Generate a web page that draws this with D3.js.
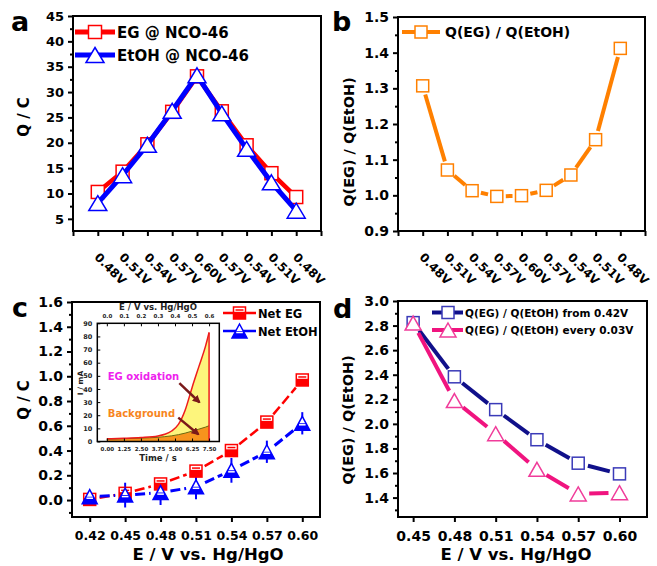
<!DOCTYPE html>
<html>
<head>
<meta charset="utf-8">
<script src="https://cdn.jsdelivr.net/npm/d3@7/dist/d3.min.js"></script>
<style>
  body { margin: 0; background: #fff; }
  text { font-family: "DejaVu Sans", sans-serif; font-weight: bold; }
</style>
</head>
<body>
<svg id="fig"></svg>
<script>
const W = 657, H = 566;

// panel a / b : cycle of potentials
const cycleLabels = ["0.48V", "0.51V", "0.54V", "0.57V", "0.60V", "0.57V", "0.54V", "0.51V", "0.48V"];
const qEG = [10.3, 14.3, 19.7, 26.1, 33.1, 26.2, 19.5, 14.0, 9.3];
const qEtOH = [8.1, 13.6, 19.6, 26.3, 33.3, 25.8, 18.8, 12.2, 6.6];
const ratioCycle = [1.307, 1.071, 1.013, 0.997, 0.999, 1.014, 1.057, 1.156, 1.412];

// panel c : net charge
const potC = [0.42, 0.45, 0.48, 0.51, 0.54, 0.57, 0.60];
const netEG = [0.005, 0.054, 0.13, 0.234, 0.40, 0.63, 0.97];
const netEGErr = [0.03, 0.03, 0.04, 0.04, 0.04, 0.04, 0.04];
const netEtOH = [0.027, 0.04, 0.06, 0.107, 0.24, 0.39, 0.62];
const netEtOHErr = [0.02, 0.1, 0.1, 0.1, 0.1, 0.09, 0.09];

// inset of c
const inTime = [0, 1.25, 2.5, 3.75, 4.25, 4.75, 5.25, 5.75, 6.25, 6.75, 7.25, 7.5];
const inEG = [2, 2.4, 3, 4.2, 5.5, 8, 13, 24, 41, 57, 73, 83];
const inBg = [1.7, 2.1, 2.6, 3.2, 3.7, 4.3, 5.2, 6.4, 7.9, 9.4, 11, 12];

// panel d : ratios
const potD = [0.45, 0.48, 0.51, 0.54, 0.57, 0.60];
const ratioFrom = [2.824, 2.383, 2.116, 1.871, 1.68, 1.593];
const ratioEvery = [2.82, 2.19, 1.92, 1.63, 1.43, 1.44];

const svg = d3.select("#fig").attr("width", W).attr("height", H);
svg.append("rect").attr("width", W).attr("height", H).attr("fill", "#fff");

function range(a, b, s) {
    const out = [];
    for (let v = a; v <= b + 1e-9; v += s) out.push(+v.toFixed(4));
    return out;
}

function frame(g, x, y) {
    g.append("rect")
        .attr("x", x.range()[0]).attr("y", y.range()[1])
        .attr("width", x.range()[1] - x.range()[0])
        .attr("height", y.range()[0] - y.range()[1])
        .attr("fill", "none").attr("stroke", "#000").attr("stroke-width", 2);
}

function yAxis(g, x, y, major, minor, fmt, size) {
    const left = x.range()[0];
    g.append("g").attr("transform", `translate(${left},0)`)
        .call(d3.axisLeft(y).tickValues(minor).tickSize(3).tickFormat(""))
        .call(a => a.select(".domain").remove())
        .selectAll("line").attr("stroke-width", 2);
    const ax = g.append("g").attr("transform", `translate(${left},0)`)
        .call(d3.axisLeft(y).tickValues(major).tickSize(5).tickPadding(4).tickFormat(fmt));
    ax.select(".domain").remove();
    ax.selectAll("line").attr("stroke-width", 2);
    ax.selectAll("text").attr("font-size", size).attr("fill", "#000")
        .style("font-family", "DejaVu Sans").style("font-weight", "bold");
}

function xAxis(g, x, y, ticks, fmt, size) {
    const ax = g.append("g").attr("transform", `translate(0,${y.range()[0]})`)
        .call(d3.axisBottom(x).tickValues(ticks).tickSize(5).tickPadding(9).tickFormat(fmt));
    ax.select(".domain").remove();
    ax.selectAll("line").attr("stroke-width", 2);
    ax.selectAll("text").attr("font-size", size).attr("fill", "#000")
        .style("font-family", "DejaVu Sans").style("font-weight", "bold");
}

function gapLine(g, pts, gap, color, width, dash) {
    for (let i = 0; i < pts.length - 1; i++) {
        const [x1, y1] = pts[i], [x2, y2] = pts[i + 1];
        const dx = x2 - x1, dy = y2 - y1, L = Math.hypot(dx, dy);
        if (L <= 2 * gap) continue;
        const ux = dx / L, uy = dy / L;
        g.append("line")
            .attr("x1", x1 + ux * gap).attr("y1", y1 + uy * gap)
            .attr("x2", x2 - ux * gap).attr("y2", y2 - uy * gap)
            .attr("stroke", color).attr("stroke-width", width)
            .attr("stroke-dasharray", dash || null);
    }
}

function square(g, cx, cy, s, color) {
    g.append("rect").attr("x", cx - s / 2).attr("y", cy - s / 2)
        .attr("width", s).attr("height", s)
        .attr("fill", "#fff").attr("stroke", color).attr("stroke-width", 1.5);
}

function triPath(cx, cy, w, h) {
    return `M${cx},${cy - h / 2}L${cx + w / 2},${cy + h / 2}L${cx - w / 2},${cy + h / 2}Z`;
}

function triangle(g, cx, cy, w, h, color) {
    g.append("path").attr("d", triPath(cx, cy, w, h))
        .attr("fill", "#fff").attr("stroke", color).attr("stroke-width", 1.5);
}

function panelLabel(txt, x, y) {
    svg.append("text").attr("x", x).attr("y", y).attr("font-size", 27).text(txt);
}

function rotatedLabels(g, x, y) {
    g.selectAll(null).data(cycleLabels).enter().append("text")
        .attr("transform", (d, i) => `translate(${x(i + 1) - 4},${y.range()[0] + 27}) rotate(45)`)
        .attr("font-size", 12).text(d => d);
}

// ---------- panel a ----------
{
    const g = svg.append("g");
    const x = d3.scaleLinear().domain([0, 10]).range([73, 321]);
    const y = d3.scaleLinear().domain([2.6, 45]).range([231, 16]);
    const ptsEG = qEG.map((v, i) => [x(i + 1), y(v)]);
    const ptsEt = qEtOH.map((v, i) => [x(i + 1), y(v)]);

    g.append("path").attr("d", d3.line()(ptsEG)).attr("fill", "none")
        .attr("stroke", "#ff0000").attr("stroke-width", 4.5);
    ptsEG.forEach(p => square(g, p[0], p[1], 13, "#ff0000"));
    g.append("path").attr("d", d3.line()(ptsEt)).attr("fill", "none")
        .attr("stroke", "#0000ff").attr("stroke-width", 5);
    ptsEt.forEach(p => triangle(g, p[0], p[1], 18, 15, "#0000ff"));

    yAxis(g, x, y, range(5, 45, 5), range(7.5, 42.5, 5), d3.format("d"), 13);
    xAxis(g, x, y, range(0, 10, 1), "", 13);
    rotatedLabels(g, x, y);
    frame(g, x, y);

    // legend
    const leg = [["EG @ NCO-46", "#ff0000", 32, "sq"], ["EtOH @ NCO-46", "#0000ff", 55, "tri"]];
    leg.forEach(([t, c, ly, m]) => {
        g.append("line").attr("x1", 75).attr("x2", 115).attr("y1", ly).attr("y2", ly)
            .attr("stroke", c).attr("stroke-width", 5);
        if (m === "sq") square(g, 95, ly, 13, c); else triangle(g, 95, ly, 18, 15, c);
        g.append("text").attr("x", 117).attr("y", ly + 5.5).attr("font-size", 15).text(t);
    });
    g.append("text").attr("transform", "translate(29,117) rotate(-90)")
        .attr("text-anchor", "middle").attr("font-size", 15).text("Q / C");
    panelLabel("a", 11, 31);
}

// ---------- panel b ----------
{
    const g = svg.append("g");
    const x = d3.scaleLinear().domain([0, 10]).range([398, 645]);
    const y = d3.scaleLinear().domain([0.9, 1.5]).range([231, 17]);
    const pts = ratioCycle.map((v, i) => [x(i + 1), y(v)]);
    const col = "#ff8000";
    gapLine(g, pts, 9, col, 4);
    pts.forEach(p => square(g, p[0], p[1], 12, col));

    yAxis(g, x, y, range(0.9, 1.5, 0.1), range(0.95, 1.45, 0.1), d3.format(".1f"), 14);
    xAxis(g, x, y, range(0, 10, 1), "", 13);
    rotatedLabels(g, x, y);
    frame(g, x, y);

    g.append("line").attr("x1", 402).attr("x2", 440).attr("y1", 32).attr("y2", 32)
        .attr("stroke", col).attr("stroke-width", 4);
    square(g, 421, 32, 12, col);
    g.append("text").attr("x", 445).attr("y", 37).attr("font-size", 14).text("Q(EG) / Q(EtOH)");
    g.append("text").attr("transform", "translate(354,142) rotate(-90)")
        .attr("text-anchor", "middle").attr("font-size", 14.5).text("Q(EG) / Q(EtOH)");
    panelLabel("b", 332, 31);
}

// ---------- panel c ----------
function halfSquare(g, cx, cy, s, color) {
    square(g, cx, cy, s, color);
    g.append("rect").attr("x", cx - s / 2).attr("y", cy - s * 0.1)
        .attr("width", s).attr("height", s * 0.6).attr("fill", color);
    g.append("line").attr("x1", cx - s / 2 + 2).attr("x2", cx + s / 2 - 2)
        .attr("y1", cy - s * 0.25).attr("y2", cy - s * 0.25)
        .attr("stroke", color).attr("stroke-width", 1.5);
}

function halfTriangle(g, cx, cy, w, h, color) {
    triangle(g, cx, cy, w, h, color);
    const id = "clip" + Math.round(cx) + "_" + Math.round(cy);
    g.append("clipPath").attr("id", id).append("rect")
        .attr("x", cx - w).attr("y", cy).attr("width", 2 * w).attr("height", h);
    g.append("path").attr("d", triPath(cx, cy, w, h)).attr("fill", color)
        .attr("clip-path", `url(#${id})`);
    g.append("line").attr("x1", cx - w * 0.22).attr("x2", cx + w * 0.22)
        .attr("y1", cy + 1.5).attr("y2", cy + 1.5)
        .attr("stroke", "#fff").attr("stroke-width", 1.5);
}

{
    const g = svg.append("g");
    const x = d3.scaleLinear().domain([0.405, 0.615]).range([72, 320]);
    const y = d3.scaleLinear().domain([-0.137, 1.6]).range([517, 302]);
    const ptsEG = netEG.map((v, i) => [x(potC[i]), y(v)]);
    const ptsEt = netEtOH.map((v, i) => [x(potC[i]), y(v)]);

    gapLine(g, ptsEG, 10, "#ff0000", 2.5, "10,4");
    gapLine(g, ptsEt, 10, "#0000ff", 3, "10,4");

    const errBar = (pts, vals, errs, color) => {
        pts.forEach((p, i) => {
            const y1 = y(vals[i] - errs[i]), y2 = y(vals[i] + errs[i]);
            g.append("line").attr("x1", p[0]).attr("x2", p[0]).attr("y1", y1).attr("y2", y2)
                .attr("stroke", color).attr("stroke-width", 2);
        });
    };
    errBar(ptsEG, netEG, netEGErr, "#ff0000");
    errBar(ptsEt, netEtOH, netEtOHErr, "#0000ff");
    ptsEG.forEach(p => halfSquare(g, p[0], p[1], 12, "#ff0000"));
    ptsEt.forEach(p => halfTriangle(g, p[0], p[1], 15, 14, "#0000ff"));

    yAxis(g, x, y, range(0, 1.6, 0.2), range(-0.1, 1.5, 0.2), d3.format(".1f"), 14);
    xAxis(g, x, y, potC, d3.format(".2f"), 12.5);
    frame(g, x, y);

    const leg = [["Net EG", "#ff0000", 313, "sq"], ["Net EtOH", "#0000ff", 331, "tri"]];
    leg.forEach(([t, c, ly, m]) => {
        g.append("line").attr("x1", 223).attr("x2", 256).attr("y1", ly).attr("y2", ly)
            .attr("stroke", c).attr("stroke-width", 2.5);
        if (m === "sq") halfSquare(g, 239.5, ly, 12, c); else halfTriangle(g, 239.5, ly, 15, 14, c);
        g.append("text").attr("x", 258).attr("y", ly + 5).attr("font-size", 11.5).text(t);
    });
    g.append("text").attr("x", 208).attr("y", 560).attr("text-anchor", "middle")
        .attr("font-size", 16.5).text("E / V vs. Hg/HgO");
    g.append("text").attr("transform", "translate(29,400) rotate(-90)")
        .attr("text-anchor", "middle").attr("font-size", 15).text("Q / C");
    panelLabel("c", 12, 317);

    // ----- inset -----
    const ix = d3.scaleLinear().domain([-0.7, 8.25]).range([97.3, 219.3]);
    const iy = d3.scaleLinear().domain([0, 90]).range([441.5, 323.3]);
    const ixTop = d3.scaleLinear().domain([-0.7 * 0.08, 8.25 * 0.08]).range([97.3, 219.3]);
    const ig = svg.append("g");
    ig.append("rect").attr("x", 97.3).attr("y", 323.3).attr("width", 122).attr("height", 118.2)
        .attr("fill", "#fff");
    const idx = d3.range(inTime.length);
    const areaEG = d3.area().x(i => ix(inTime[i])).y0(iy(0)).y1(i => iy(inEG[i])).curve(d3.curveMonotoneX);
    const areaBg = d3.area().x(i => ix(inTime[i])).y0(iy(0)).y1(i => iy(inBg[i])).curve(d3.curveMonotoneX);
    ig.append("path").attr("d", areaEG(idx)).attr("fill", "#fdf57c");
    ig.append("path").attr("d", areaBg(idx)).attr("fill", "#f7941d");
    ig.append("path").attr("d", d3.line().x(i => ix(inTime[i])).y(i => iy(inBg[i])).curve(d3.curveMonotoneX)(idx))
        .attr("fill", "none").attr("stroke", "#6b6b10").attr("stroke-width", 1);
    const last = inTime.length - 1;
    ig.append("path").attr("d", d3.line().x(i => ix(inTime[i])).y(i => iy(inEG[i])).curve(d3.curveMonotoneX)(idx))
        .attr("fill", "none").attr("stroke", "#ee1c1c").attr("stroke-width", 1.5);
    ig.append("line").attr("x1", ix(inTime[last])).attr("x2", ix(inTime[last]))
        .attr("y1", iy(0)).attr("y2", iy(inEG[last]))
        .attr("stroke", "#ee1c1c").attr("stroke-width", 1.5);

    const styleInset = (a, size) => {
        a.select(".domain").remove();
        a.selectAll("line").attr("stroke-width", 1);
        a.selectAll("text").attr("font-size", size).attr("fill", "#222")
            .style("font-family", "DejaVu Sans").style("font-weight", "bold");
    };
    const iticks = range(0, 7.5, 1.25);
    ig.append("g").attr("transform", "translate(0,441.5)")
        .call(d3.axisBottom(ix).tickValues(iticks).tickSizeInner(-3).tickSizeOuter(0).tickPadding(6).tickFormat(d3.format(".2f")))
        .call(a => styleInset(a, 5.5));
    ig.append("g").attr("transform", "translate(0,323.3)")
        .call(d3.axisTop(ixTop).tickValues(range(0, 0.6, 0.1)).tickSizeInner(-3).tickSizeOuter(0).tickPadding(5).tickFormat(d3.format(".1f")))
        .call(a => styleInset(a, 5.5));
    ig.append("g").attr("transform", "translate(97.3,0)")
        .call(d3.axisLeft(iy).tickValues(range(0, 90, 10)).tickSizeInner(-3).tickSizeOuter(0).tickPadding(5).tickFormat(d3.format("d")))
        .call(a => styleInset(a, 6.5));
    ig.append("rect").attr("x", 97.3).attr("y", 323.3).attr("width", 122).attr("height", 118.2)
        .attr("fill", "none").attr("stroke", "#000").attr("stroke-width", 1.5);

    ig.append("text").attr("x", 158).attr("y", 310).attr("text-anchor", "middle")
        .attr("font-size", 8.5).attr("fill", "#222").text("E / V vs. Hg/HgO");
    ig.append("text").attr("x", 158).attr("y", 461).attr("text-anchor", "middle")
        .attr("font-size", 8.5).attr("fill", "#222").text("Time / s");
    ig.append("text").attr("transform", "translate(83,383) rotate(-90)")
        .attr("text-anchor", "middle").attr("font-size", 7.5).attr("fill", "#222").text("I / mA");
    ig.append("text").attr("x", ix(0.07)).attr("y", iy(47)).attr("font-size", 10)
        .attr("fill", "#ee22ee").text("EG oxidation");
    ig.append("text").attr("x", ix(0.07)).attr("y", iy(19)).attr("font-size", 10)
        .attr("fill", "#f7851d").text("Background");

    const defs = svg.append("defs");
    defs.append("marker").attr("id", "arr").attr("viewBox", "0 0 10 10")
        .attr("refX", 8).attr("refY", 5).attr("markerWidth", 3.2).attr("markerHeight", 3.2)
        .attr("orient", "auto")
        .append("path").attr("d", "M0,0L10,5L0,10Z").attr("fill", "#7a1a1a");
    const arrows = [[5.32, 44.4, 6.79, 29.9], [5.24, 18.2, 6.71, 5.5]];
    arrows.forEach(([t1, v1, t2, v2]) => {
        ig.append("line").attr("x1", ix(t1)).attr("y1", iy(v1)).attr("x2", ix(t2)).attr("y2", iy(v2))
            .attr("stroke", "#7a1a1a").attr("stroke-width", 2.5).attr("marker-end", "url(#arr)");
    });
}

// ---------- panel d ----------
{
    const g = svg.append("g");
    const x = d3.scaleLinear().domain([0.439, 0.62]).range([398, 647]);
    const y = d3.scaleLinear().domain([1.242, 3.0]).range([517, 301]);
    const ptsA = ratioFrom.map((v, i) => [x(potD[i]), y(v)]);
    const ptsB = ratioEvery.map((v, i) => [x(potD[i]), y(v)]);
    const blue = "#10108a", blueM = "#3a3ab8", pink = "#f0147f", pinkM = "#f03c9a";

    gapLine(g, ptsA, 10, blue, 4);
    gapLine(g, ptsB, 11, pink, 4);
    ptsA.forEach(p => square(g, p[0], p[1], 12, blueM));
    ptsB.forEach(p => triangle(g, p[0], p[1], 16, 14, pinkM));

    yAxis(g, x, y, range(1.4, 3.0, 0.2), range(1.3, 2.9, 0.2), d3.format(".1f"), 14);
    xAxis(g, x, y, potD, d3.format(".2f"), 14);
    frame(g, x, y);

    const leg = [["Q(EG) / Q(EtOH) from 0.42V", blue, blueM, 312.5, "sq"],
                 ["Q(EG) / Q(EtOH) every 0.03V", pink, pinkM, 330, "tri"]];
    leg.forEach(([t, c, cm, ly, m]) => {
        g.append("line").attr("x1", 432).attr("x2", 463).attr("y1", ly).attr("y2", ly)
            .attr("stroke", c).attr("stroke-width", 4);
        if (m === "sq") square(g, 448, ly, 12, cm); else triangle(g, 448, ly, 16, 14, cm);
        g.append("text").attr("x", 465).attr("y", ly + 4).attr("font-size", 10.5).text(t);
    });
    g.append("text").attr("x", 516).attr("y", 560).attr("text-anchor", "middle")
        .attr("font-size", 16.5).text("E / V vs. Hg/HgO");
    g.append("text").attr("transform", "translate(353,420) rotate(-90)")
        .attr("text-anchor", "middle").attr("font-size", 14.5).text("Q(EG) / Q(EtOH)");
    panelLabel("d", 333, 318);
}
</script>
</body>
</html>
